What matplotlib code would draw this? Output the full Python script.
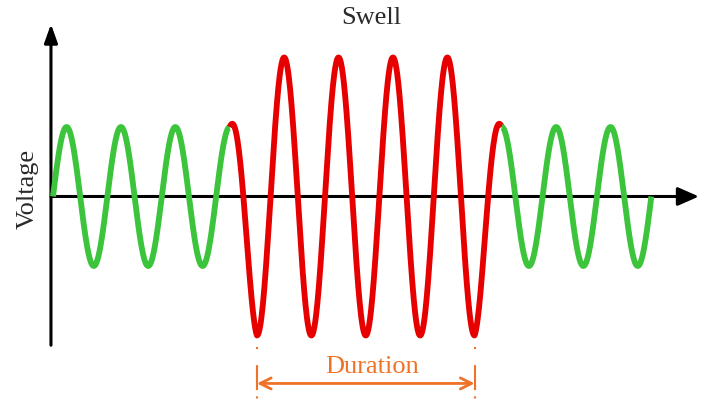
import matplotlib.pyplot as plt
import numpy as np

# Time in cycles of the supply wave, voltage in per-unit
segment_starts = [0.0, 3.25, 8.25]
segment_ends = [3.25, 8.25, 11.0]
segment_colors = ['#3cc43c', '#e60000', '#3cc43c']
# Amplitude envelope of the waveform (peak before swell, swell level, peak after)
envelope_times = [0.0, 3.25, 3.75, 7.75, 8.25, 11.0]
envelope_levels = [1.0, 1.0, 2.0, 2.0, 1.0, 1.0]
# Swell duration markers (first and last swell trough)
duration_start = 3.75
duration_end = 7.75

title_text = 'Swell'
ylabel_text = 'Voltage'
duration_text = 'Duration'


def waveform(t_start: float, t_end: float):
    t = np.linspace(t_start, t_end, 600)
    amp = np.interp(t, envelope_times, envelope_levels)
    return t, amp * np.sin(2 * np.pi * t)


def drawChart():
    fig = plt.figure(figsize=(7.09, 4.05), dpi=100)
    ax = fig.add_axes([0, 0, 1, 1])
    ax.set_xlim(-0.974, 12.06)
    ax.set_ylim(-3.0, 2.827)
    ax.axis('off')

    # Axes with arrow heads
    ax.annotate('', xy=(11.875, 0), xytext=(-0.037, 0),
                arrowprops=dict(arrowstyle='-|>,head_length=0.8,head_width=0.35',
                                mutation_scale=16, lw=2.2, color='black',
                                shrinkA=0, shrinkB=0))
    ax.annotate('', xy=(-0.037, 2.48), xytext=(-0.037, -2.14),
                arrowprops=dict(arrowstyle='-|>,head_length=0.7,head_width=0.25',
                                mutation_scale=16, lw=2.2, color='black',
                                shrinkA=0, shrinkB=0))

    # Voltage waveform, normal and swell parts
    for start, end, color in zip(segment_starts, segment_ends, segment_colors):
        t, v = waveform(start, end)
        ax.plot(t, v, color=color, lw=4.2, solid_capstyle='butt', zorder=3)

    # Duration markers
    orange = '#f07228'
    for t0 in [duration_start, duration_end]:
        ax.plot([t0, t0], [-2.165, -2.93], color=orange, lw=1.5,
                linestyle=(0, (1, 7.7, 12, 3)))
    ax.annotate('', xy=(duration_end, -2.69), xytext=(duration_start, -2.69),
                arrowprops=dict(arrowstyle='<->', mutation_scale=20, lw=2.0,
                                color=orange, shrinkA=0, shrinkB=0))

    # Texts
    serif = ['Liberation Serif', 'DejaVu Serif']
    ax.text(5.87, -2.45, duration_text, color=orange, fontsize=19,
            family=serif, ha='center', va='center')
    ax.text(5.86, 2.57, title_text, color='#2a2a2a', fontsize=19,
            family=serif, ha='center', va='center')
    ax.text(-0.46, 0.11, ylabel_text, color='#2a2a2a', fontsize=19,
            family=serif, ha='center', va='center', rotation=90)

    fig.savefig('out.png', dpi=100)


if __name__ == '__main__':
    drawChart()
